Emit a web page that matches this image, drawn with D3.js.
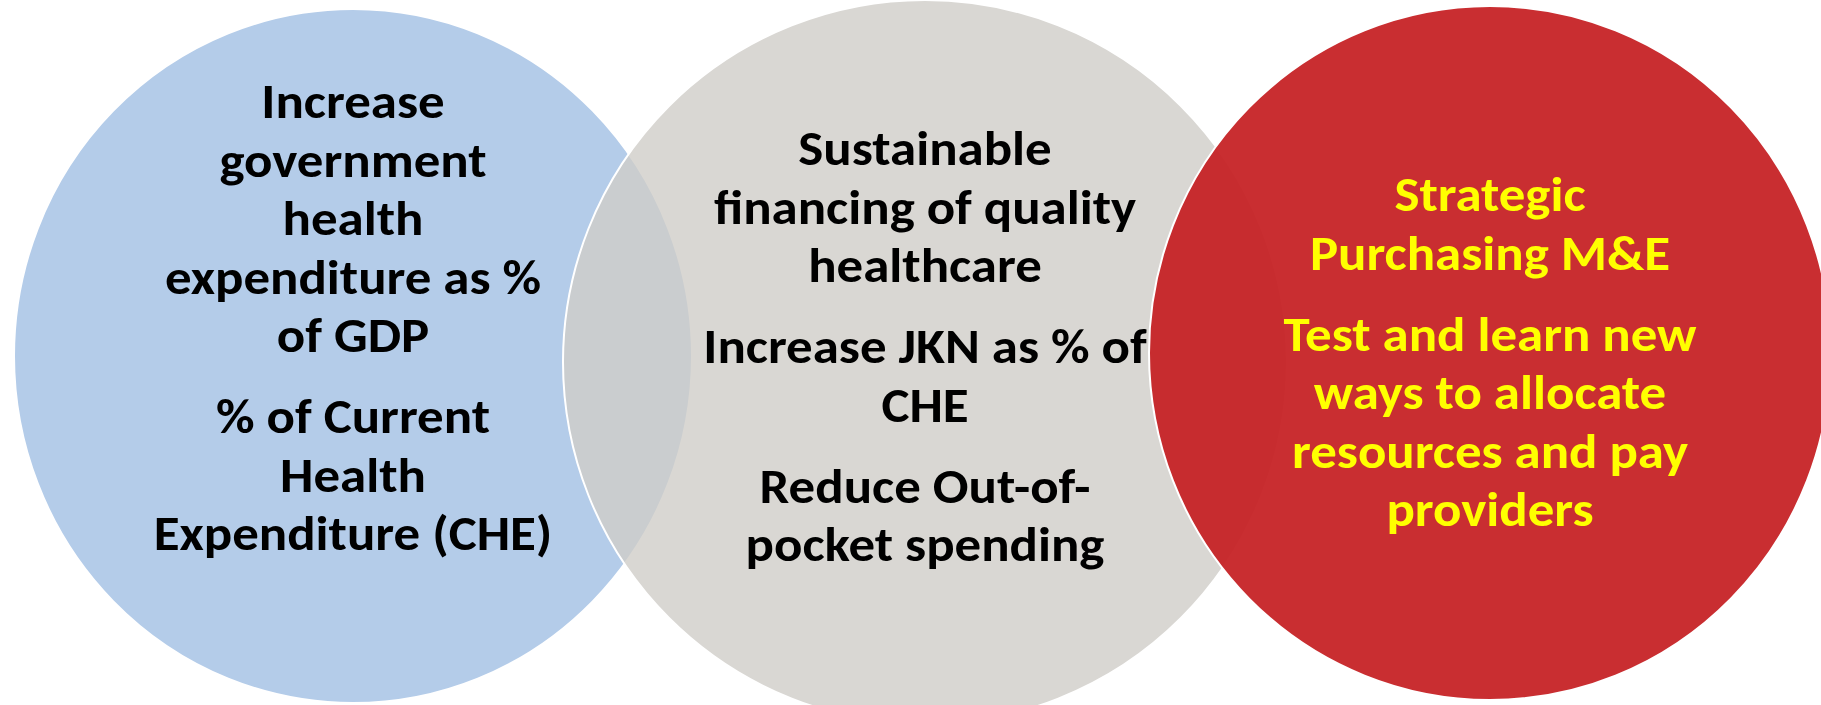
<!DOCTYPE html>
<html lang="en">
<head>
    <meta charset="UTF-8">
    <title>Health financing Venn</title>
    <style>
        body, html {
            margin: 0;
            padding: 0;
            background-color: #fff;
            overflow: hidden;
        }
        svg { display: block; }
        .label {
            font-family: Carlito, Calibri, Lato, "Open Sans", sans-serif;
            font-weight: 700;
        }
    </style>
</head>
<body>
    <div id="chart"></div>

    <script src="https://d3js.org/d3.v7.min.js"></script>
    <script>
        // circles, left to right
        const groups = ["government", "jkn", "purchasing"];
        const fills = ["#b4cce9", "#cfcdc8", "#c62326"];
        const opacities = [1, 0.8, 0.95];
        const textColors = ["#000", "#000", "#ffff00"];

        // paragraphs of text inside each circle
        const governmentText = [
            ["Increase", "government", "health", "expenditure as %", "of GDP"],
            ["% of Current", "Health", "Expenditure (CHE)"]
        ];
        const jknText = [
            ["Sustainable", "financing of quality", "healthcare"],
            ["Increase JKN as % of", "CHE"],
            ["Reduce Out-of-", "pocket spending"]
        ];
        const purchasingText = [
            ["Strategic", "Purchasing M&E"],
            ["Test and learn new", "ways to allocate", "resources and pay", "providers"]
        ];
        const texts = [governmentText, jknText, purchasingText];

        const width = 1821;
        const height = 705;

        // layout
        const cx = d3.scaleOrdinal().domain(groups).range([353, 925, 1490]);
        const cy = d3.scaleOrdinal().domain(groups).range([356, 362, 353]);
        const rx = d3.scaleOrdinal().domain(groups).range([339, 362, 341]);
        const ry = d3.scaleOrdinal().domain(groups).range([347, 362, 347]);
        const firstBaseline = d3.scaleOrdinal().domain(groups).range([118, 165, 211]);
        const lineHeight = 58.5;
        const paraGap = 22.5;
        const fontSize = 49;
        const stretch = 1.08; // Lato is narrower than the original face

        const svg = d3.select("#chart")
            .append("svg")
            .attr("width", width)
            .attr("height", height);

        groups.forEach((g, i) => {
            svg.append("ellipse")
                .attr("cx", cx(g))
                .attr("cy", cy(g))
                .attr("rx", rx(g))
                .attr("ry", ry(g))
                .attr("fill", fills[i])
                .attr("fill-opacity", opacities[i])
                .attr("stroke", "#fff")
                .attr("stroke-width", 2);

            // flatten paragraphs to lines with y offsets
            const lines = [];
            let y = firstBaseline(g);
            texts[i].forEach((para, p) => {
                if (p > 0) y += paraGap;
                para.forEach(line => {
                    lines.push({ text: line, y: y });
                    y += lineHeight;
                });
            });

            svg.append("g")
                .selectAll("text")
                .data(lines)
                .join("text")
                .attr("class", "label")
                .attr("transform", d => `translate(${cx(g)},${d.y}) scale(${stretch},1)`)
                .attr("text-anchor", "middle")
                .attr("font-size", fontSize + "px")
                .attr("fill", textColors[i])
                .text(d => d.text);
        });
    </script>
</body>
</html>
